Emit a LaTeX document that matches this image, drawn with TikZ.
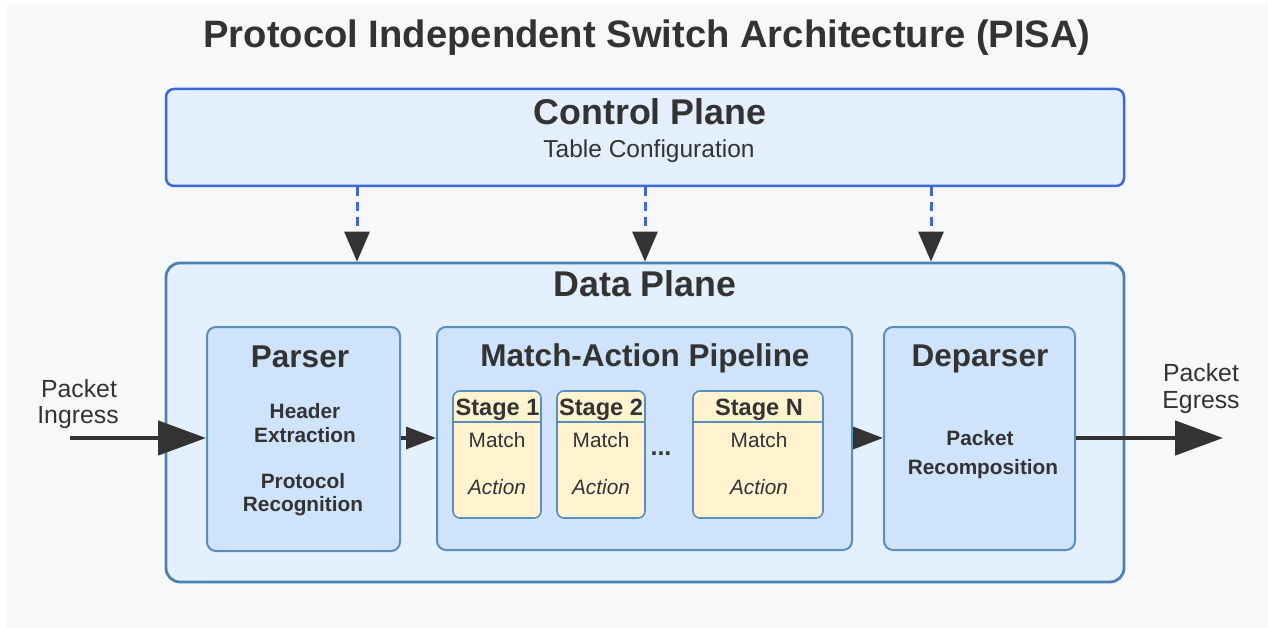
\documentclass[tikz,border=0pt]{standalone}
\usepackage{fontspec}
\setmainfont{Liberation Sans}
\usetikzlibrary{arrows.meta}
\definecolor{bgc}{HTML}{F6F8FA}
\definecolor{cpfill}{HTML}{E3EFFD}
\definecolor{cpline}{HTML}{3D66D8}
\definecolor{dpfill}{HTML}{E4F0FD}
\definecolor{dpline}{HTML}{4A80B2}
\definecolor{infill}{HTML}{CFE4FA}
\definecolor{inline}{HTML}{5A8EBE}
\definecolor{stfill}{HTML}{FFF3D0}
\definecolor{txt}{HTML}{333333}
\newcommand{\fs}[1]{\fontsize{#1}{#1}\selectfont}
\tikzset{
  x=1pt, y=-1pt,
  cpbox/.style={draw=cpline, fill=cpfill, line width=2.5pt, rounded corners=8pt, inner sep=0pt},
  dpbox/.style={draw=dpline, fill=dpfill, line width=2.8pt, rounded corners=14pt, inner sep=0pt},
  inbox/.style={draw=inline, fill=infill, line width=2pt, rounded corners=9pt, inner sep=0pt},
  stbox/.style={draw=inline, fill=stfill, line width=1.6pt, rounded corners=7pt, inner sep=0pt, minimum width=88pt, minimum height=127pt},
  lbl/.style={text=txt, inner sep=0pt, anchor=base, align=center},
  flow/.style={draw=txt, line width=4.5pt, -{Triangle[length=48pt, width=34pt]}},
  sflow/.style={draw=txt, line width=3.5pt, -{Triangle[length=30pt, width=22pt]}},
  ctrl/.style={draw=cpline, line width=3pt, dash pattern=on 9pt off 6pt, -{Triangle[length=30pt, width=25pt, color=txt, fill=txt]}},
}
\begin{document}
\begin{tikzpicture}
\useasboundingbox (0,0) rectangle (1268,628);
\fill[white] (0,0) rectangle (1268,628);
\fill[bgc] (7,4) rectangle (1268,628);

\node[lbl, font=\fs{38.2}\bfseries] (title) at (647,48) {Protocol Independent Switch Architecture (PISA)};

% control plane
\node[cpbox, minimum width=958pt, minimum height=97pt] (cp) at (645,137.5) {};
\node[lbl, font=\fs{35.8}\bfseries] (cpt) at (650,125) {Control Plane};
\node[lbl, font=\fs{24.5}] (cps) at (649,158) {Table Configuration};

% data plane
\node[dpbox, minimum width=958pt, minimum height=319pt] (dp) at (645,422.5) {};
\node[lbl, font=\fs{35.8}\bfseries] (dpt) at (645,296) {Data Plane};

% dashed control arrows
\coordinate (k1) at (357,0);
\coordinate (k2) at (645,0);
\coordinate (k3) at (931,0);
\draw[ctrl] (cp.south -| k1) -- (dp.north -| k1);
\draw[ctrl] (cp.south -| k2) -- (dp.north -| k2);
\draw[ctrl] (cp.south -| k3) -- (dp.north -| k3);

% parser
\node[inbox, minimum width=193pt, minimum height=224pt] (pa) at (303.5,439) {};
\node[lbl, font=\fs{31.5}\bfseries] (pat) at (300,367) {Parser};
\node[lbl, font=\fs{20.8}\bfseries] (pa1) at (305,418) {Header};
\node[lbl, font=\fs{20.8}\bfseries] (pa2) at (305,442) {Extraction};
\node[lbl, font=\fs{20.8}\bfseries] (pa3) at (303,488) {Protocol};
\node[lbl, font=\fs{20.8}\bfseries] (pa4) at (303,511) {Recognition};

% pipeline
\node[inbox, minimum width=415pt, minimum height=223pt] (pp) at (644.5,438.5) {};
\node[lbl, font=\fs{31.5}\bfseries] (ppt) at (645,366) {Match-Action Pipeline};

\node[stbox] (s1) at (497,454.5) {};
\node[stbox] (s2) at (601,454.5) {};
\node[stbox, minimum width=130pt] (sn) at (758,454.5) {};
\coordinate (hl) at (0,422);
\draw[draw=inline, line width=1.6pt] (s1.west |- hl) -- (s1.east |- hl);
\draw[draw=inline, line width=1.6pt] (s2.west |- hl) -- (s2.east |- hl);
\draw[draw=inline, line width=1.6pt] (sn.west |- hl) -- (sn.east |- hl);
\node[lbl, font=\fs{23.6}\bfseries] (s1t) at (497.5,415) {Stage 1};
\node[lbl, font=\fs{23.6}\bfseries] (s2t) at (601,415) {Stage 2};
\node[lbl, font=\fs{23.6}\bfseries] (snt) at (759,415) {Stage N};
\node[lbl, font=\fs{20.8}] (s1m) at (497,447) {Match};
\node[lbl, font=\fs{20.8}] (s2m) at (601,447) {Match};
\node[lbl, font=\fs{20.8}] (snm) at (759,447) {Match};
\node[lbl, font=\fs{20.8}\itshape] (s1a) at (497,494) {Action};
\node[lbl, font=\fs{20.8}\itshape] (s2a) at (601,494) {Action};
\node[lbl, font=\fs{20.8}\itshape] (sna) at (759,494) {Action};
\node[lbl, font=\fs{25}\bfseries] (dots) at (661,455) {...};

% deparser
\node[inbox, minimum width=191pt, minimum height=223pt] (de) at (979.5,438.5) {};
\node[lbl, font=\fs{31.5}\bfseries] (det) at (980,366) {Deparser};
\node[lbl, font=\fs{20.8}\bfseries] (de1) at (980,445) {Packet};
\node[lbl, font=\fs{20.8}\bfseries] (de2) at (983,474) {Recomposition};

% ingress / egress
\coordinate (inS) at (70,438);
\coordinate (outE) at (1223,438);
\node[lbl, font=\fs{24.8}] (in1) at (79,397) {Packet};
\node[lbl, font=\fs{24.8}] (in2) at (78,423) {Ingress};
\node[lbl, font=\fs{24.8}] (out1) at (1201,381) {Packet};
\node[lbl, font=\fs{24.8}] (out2) at (1201,408) {Egress};

\draw[flow] (inS) -- (pa.west |- inS);
\draw[sflow] (pa.east |- inS) -- (pp.west |- inS);
\draw[sflow] (pp.east |- inS) -- (de.west |- inS);
\draw[flow] (de.east |- inS) -- (outE);
\end{tikzpicture}
\end{document}
